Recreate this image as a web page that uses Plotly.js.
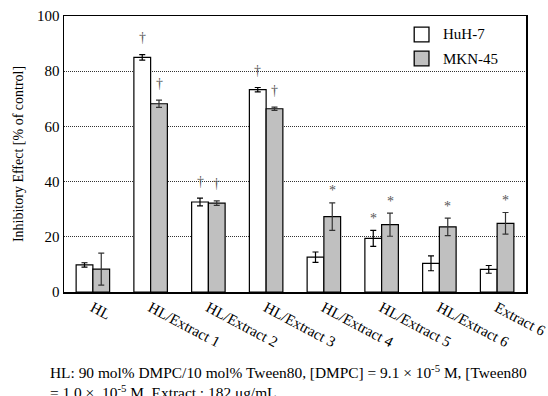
<!DOCTYPE html>
<html>
<head>
<meta charset="utf-8">
<script src="https://cdn.plot.ly/plotly-3.0.1.min.js"></script>
<style>html,body{margin:0;padding:0;background:#fff;}#chart{width:548px;height:396px;}</style>
</head>
<body>
<div id="chart"></div>
<script>
const categories = ["HL", "HL/Extract 1", "HL/Extract 2", "HL/Extract 3", "HL/Extract 4", "HL/Extract 5", "HL/Extract 6", "Extract 6"];
const huh7 = [9.8, 85.0, 32.6, 73.3, 12.6, 19.4, 10.4, 8.2];
const huh7Err = [0.8, 1.0, 1.4, 0.8, 1.9, 2.9, 2.7, 1.4];
const mkn45 = [8.3, 68.2, 32.2, 66.4, 27.3, 24.4, 23.6, 24.9];
const mkn45Err = [5.8, 1.3, 0.8, 0.6, 5.0, 4.2, 3.2, 3.9];
const huh7Marks = ["", "†", "†", "†", "", "*", "", ""];
const mkn45Marks = ["", "†", "†", "†", "*", "*", "*", "*"];
const seriesNames = ["HuH-7", "MKN-45"];
const seriesColors = ["#ffffff", "#c0c0c0"];
const footnote = "HL: 90 mol% DMPC/10 mol% Tween80, [DMPC] = 9.1 × 10<sup>-5</sup> M, [Tween80<br>= 1.0 ×  10<sup>-5</sup> M. Extract : 182 μg/mL";

const serif = "Liberation Serif";

const traces = [
  {type: "bar", name: seriesNames[0], x: categories, y: huh7,
   marker: {color: seriesColors[0], line: {color: "#000", width: 1.2}},
   error_y: {type: "data", array: huh7Err, visible: true, color: "#000", thickness: 1.2, width: 3}},
  {type: "bar", name: seriesNames[1], x: categories, y: mkn45,
   marker: {color: seriesColors[1], line: {color: "#000", width: 1.2}},
   error_y: {type: "data", array: mkn45Err, visible: true, color: "#333", thickness: 1.2, width: 3}}
];

const off = 0.145;
const annotations = [];
function addMarks(marks, vals, errs, dx) {
  marks.forEach((m, i) => {
    if (!m) return;
    annotations.push({x: i + dx, y: vals[i] + errs[i], xref: "x", yref: "y", text: m, showarrow: false,
      yanchor: "middle", yshift: m === "*" ? 12 : 17,
      font: {family: serif, size: 14, color: "#555"}});
  });
}
addMarks(huh7Marks, huh7, huh7Err, -off);
addMarks(mkn45Marks, mkn45, mkn45Err, off);
annotations.push({xref: "paper", yref: "paper", x: -0.035, y: 0, yshift: -68, xanchor: "left", yanchor: "top",
  align: "left", showarrow: false, text: footnote, font: {family: serif, size: 15.4, color: "#000"}});

// custom legend (paper coordinates)
const shapes = [];
const legendRows = [{y0: 0.906, y1: 0.960}, {y0: 0.819, y1: 0.873}];
seriesNames.forEach((n, k) => {
  const r = legendRows[k];
  shapes.push({type: "rect", xref: "paper", yref: "paper", x0: 0.758, x1: 0.790, y0: r.y0, y1: r.y1,
    fillcolor: seriesColors[k], line: {color: "#000", width: 1.3}});
  annotations.push({xref: "paper", yref: "paper", x: 0.816, y: (r.y0 + r.y1) / 2, xanchor: "left", yanchor: "middle",
    showarrow: false, text: n, font: {family: serif, size: 15, color: "#000"}});
});

const layout = {
  width: 548, height: 396,
  margin: {l: 64, r: 22, t: 16, b: 104},
  paper_bgcolor: "#fff", plot_bgcolor: "#fff",
  barmode: "group", bargap: 0.42, bargroupgap: 0,
  font: {family: serif, size: 15, color: "#000"},
  showlegend: false,
  xaxis: {type: "category", tickangle: 28, showline: true, mirror: true, linecolor: "#000", linewidth: 1.5,
    ticks: "", showgrid: false, tickfont: {family: serif, size: 15, color: "#000"}},
  yaxis: {range: [0, 100], tickvals: [0, 20, 40, 60, 80, 100], showline: true, mirror: true, linecolor: "#000", linewidth: 1.5,
    ticks: "", showgrid: true, gridcolor: "#333", griddash: "1px,1px", gridwidth: 1, zeroline: false,
    tickfont: {family: serif, size: 15, color: "#000"},
    title: {text: "Inhibitory Effect [% of control]", font: {family: serif, size: 14, color: "#000"}, standoff: 10}},
  shapes: shapes,
  annotations: annotations
};

Plotly.newPlot("chart", traces, layout, {displayModeBar: false, staticPlot: true});
</script>
</body>
</html>
